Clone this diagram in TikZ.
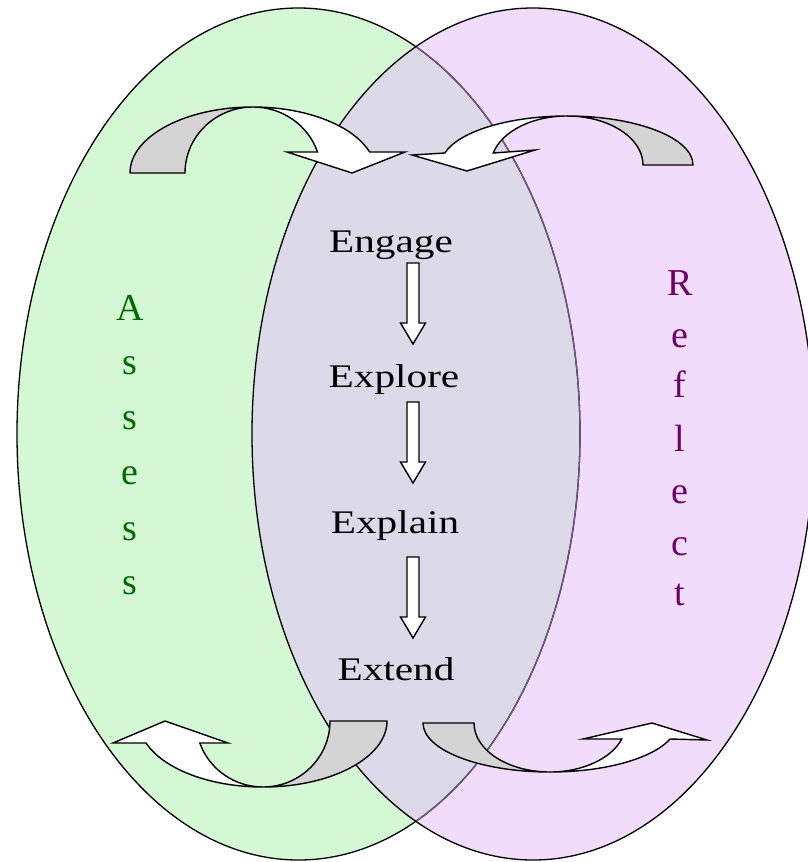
\documentclass[tikz,border=0pt]{standalone}
\usepackage{fontspec}
\setmainfont{Liberation Serif}
\newfontfamily\stagefont[FakeStretch=1.25]{Liberation Serif}
\definecolor{greenfill}{HTML}{D4F8D4}
\definecolor{pinkfill}{HTML}{F2DCFC}
\definecolor{overlapfill}{HTML}{DCDAE8}
\definecolor{edgepurple}{HTML}{6E5A7E}
\definecolor{assessgreen}{HTML}{006A00}
\definecolor{reflectpurple}{HTML}{6E006E}
\definecolor{backgray}{HTML}{D4D4D4}
\tikzset{
  stage/.style={font=\stagefont\fontsize{33}{33}\selectfont, inner sep=0pt, anchor=base},
  sideA/.style={font=\fontsize{38}{38}\selectfont, text=assessgreen, inner sep=0pt, anchor=base},
  sideR/.style={font=\fontsize{38}{38}\selectfont, text=reflectpurple, inner sep=0pt, anchor=base},
  ringedge/.style={line width=1.3pt},
  backface/.style={fill=backgray, draw=black, line width=1.4pt, line join=miter},
  frontface/.style={fill=white, draw=black, line width=1.4pt, line join=miter},
  blockdown/.pic={\filldraw[frontface] (-6,0) -- (6,0) -- (6,60) -- (12.5,60) -- (0,81) -- (-12.5,60) -- (-6,60) -- cycle;}
}
\begin{document}
\begin{tikzpicture}[x=1pt,y=-1pt]
\useasboundingbox (0,0) rectangle (808,862);
\clip (0,0) rectangle (808,862);
% ellipse fills
\fill[greenfill] (298.5,434) ellipse[x radius=281.5, y radius=426];
\fill[pinkfill] (533,434) ellipse[x radius=281, y radius=426];
\begin{scope}
  \clip (298.5,434) ellipse[x radius=281.5, y radius=426];
  \fill[overlapfill] (533,434) ellipse[x radius=281, y radius=426];
\end{scope}
% ellipse borders
\draw[ringedge] (298.5,434) ellipse[x radius=281.5, y radius=426];
\begin{scope}
  \clip (533,434) ellipse[x radius=281, y radius=426];
  \draw[ringedge, edgepurple] (298.5,434) ellipse[x radius=281.5, y radius=426];
\end{scope}
\draw[ringedge] (533,434) ellipse[x radius=281, y radius=426];

% top-left curved arrow
\filldraw[backface] (130,173) arc[start angle=180, end angle=270, x radius=123, y radius=66]
  arc[start angle=270, end angle=180, x radius=68, y radius=66] -- cycle;
\filldraw[frontface] (253,107) arc[start angle=270, end angle=341.45, x radius=123, y radius=66]
  -- (405,152) -- (352,173) -- (287,152) -- (317.5,152)
  arc[start angle=341.45, end angle=270, x radius=68, y radius=66] -- cycle;

% top-right curved arrow
\filldraw[backface] (693,165) arc[start angle=0, end angle=-90, x radius=126, y radius=49]
  arc[start angle=-90, end angle=0, x radius=76, y radius=49] -- cycle;
\filldraw[frontface] (567,116) arc[start angle=270, end angle=194.17, x radius=126, y radius=49]
  -- (412,155) -- (467,171) -- (535,150) -- (493.3,153)
  arc[start angle=194.17, end angle=270, x radius=76, y radius=49] -- cycle;

% bottom-left curved arrow
\filldraw[backface] (387,721) arc[start angle=0, end angle=90, x radius=124, y radius=66]
  arc[start angle=90, end angle=0, x radius=67, y radius=66] -- cycle;
\filldraw[frontface] (263,787) arc[start angle=90, end angle=160.53, x radius=124, y radius=66]
  -- (113,743) -- (165,721) -- (228,743) -- (199.8,743)
  arc[start angle=160.53, end angle=90, x radius=67, y radius=66] -- cycle;

% bottom-right curved arrow
\filldraw[backface] (423,723) arc[start angle=180, end angle=90, x radius=127, y radius=49]
  arc[start angle=90, end angle=180, x radius=76, y radius=49] -- cycle;
\filldraw[frontface] (550,772) arc[start angle=90, end angle=19.06, x radius=127, y radius=49]
  -- (707,740) -- (652,723) -- (583,739) -- (621.8,739)
  arc[start angle=19.06, end angle=90, x radius=76, y radius=49] -- cycle;

% stage labels
\node[stage] (engage) at (391,252) {Engage};
\node[stage] (explore) at (394,387) {Explore};
\node[stage] (explain) at (395,533) {Explain};
\node[stage] (extend) at (396,680) {Extend};

% block arrows between stages
\pic at (413,263) {blockdown};
\pic at (413,402) {blockdown};
\pic at (413,557) {blockdown};

% Assess
\foreach \ch/\yy [count=\i] in {A/320, s/374, s/429, e/484, s/540, s/594}
  \node[sideA] (assess\i) at (130,\yy) {\ch};
% Reflect
\foreach \ch/\yy [count=\i] in {R/295, e/347, f/397, l/451, e/503, c/555, t/605}
  \node[sideR] (reflect\i) at (680,\yy) {\ch};
\end{tikzpicture}
\end{document}
